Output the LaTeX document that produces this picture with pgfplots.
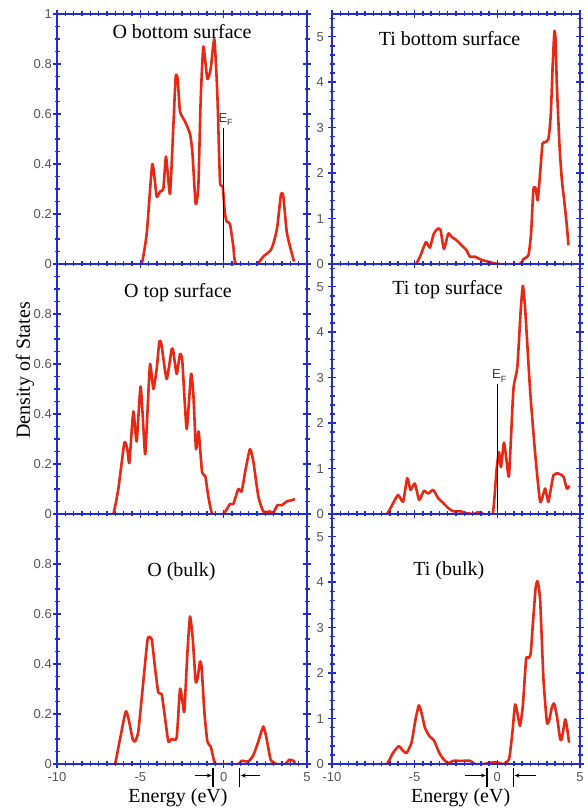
\documentclass[border=0pt]{standalone}
\usepackage{fontspec}
\setmainfont{Liberation Serif}
\setsansfont{Liberation Sans}
\usepackage{pgfplots}
\pgfplotsset{compat=1.18}
\usetikzlibrary{arrows.meta}

\definecolor{frameblue}{RGB}{35,45,205}
\definecolor{dosred}{RGB}{232,40,20}
\definecolor{ticktext}{RGB}{85,85,85}
\definecolor{eftext}{RGB}{55,55,55}

\newcommand\ticklabelfont{\sffamily\fontsize{13}{13}\selectfont}
\newcommand\titlefont{\fontsize{20}{24}\selectfont}
\newcommand\eflabel{E\rlap{\raisebox{-3.5pt}{\fontsize{9}{9}\selectfont F}}}

\pgfplotsset{
  dos/.style={
    scale only axis, height=250pt,
    xmin=-10, xmax=5,
    axis on top,
    clip mode=individual,
    axis line style={frameblue, line width=2.4pt},
    tick style={frameblue, line width=1.5pt},
    major tick length=8pt, minor tick length=5pt,
    tick align=center,
    xtick={-10,-5,0,5},
    minor xtick={-9.5,-9,...,4.5},
    tick label style={font=\ticklabelfont, text=ticktext},
    /pgf/number format/assume math mode=true,
    xticklabel style={anchor=center, yshift=-9pt},
  },
  dosleft/.style={dos, width=250pt, ymin=0, ymax=1,
    ytick={0,0.2,0.4,0.6,0.8,1},
    minor ytick={0.05,0.1,...,0.951},
    yticklabel style={anchor=east, inner sep=0pt, xshift=-1pt}},
  dosright/.style={dos, width=248pt, ymin=0, ymax=5.5,
    ytick={0,1,2,3,4,5},
    minor ytick={0.2,0.4,...,5.41},
    yticklabel style={anchor=east, inner sep=0pt, xshift=-4pt}},
  dosline/.style={dosred, line width=2.6pt, line join=round, smooth, tension=0.3, no marks},
  efline/.style={black, line width=1.6pt, no marks},
}

\begin{document}
\begin{tikzpicture}
\useasboundingbox (0,0) rectangle (588pt,810pt);

% ---------------- O, bottom surface ----------------
\begin{axis}[dosleft, at={(57pt,546pt)}, anchor=south west, xticklabels={}]
\addplot[dosline] coordinates {
(-5.3,0) (-4.92,0) (-4.62,0.12) (-4.28,0.40) (-4.02,0.27) (-3.82,0.29) (-3.62,0.30)
(-3.46,0.43) (-3.22,0.28) (-3.02,0.55) (-2.88,0.75) (-2.76,0.74) (-2.62,0.61)
(-2.32,0.57) (-2.02,0.52) (-1.88,0.45) (-1.68,0.24) (-1.52,0.31) (-1.38,0.655)
(-1.22,0.87) (-0.98,0.74) (-0.78,0.78) (-0.56,0.90) (-0.38,0.68) (-0.22,0.33)
(-0.06,0.31) (0.08,0.20) (0.18,0.17) (0.38,0.16) (0.58,0.07) (0.74,0) (1.98,0)
(2.38,0.03) (2.82,0.055) (3.02,0.09) (3.22,0.15) (3.44,0.28) (3.58,0.27) (3.78,0.13)
(3.98,0.07) (4.22,0.01)};
\addplot[efline] coordinates {(0,0) (0,0.545)};
\node[font=\sffamily\fontsize{13}{13}\selectfont, text=eftext, anchor=base, inner sep=0]
  at (axis cs:-0.05,0.567) {\eflabel};
\node[font=\titlefont] at (axis description cs:0.5,0.928) {O bottom surface};
\end{axis}

% ---------------- Ti, bottom surface ----------------
\begin{axis}[dosright, at={(332pt,546pt)}, anchor=south west, xticklabels={}]
\addplot[dosline] coordinates {
(-5.3,0) (-4.93,0) (-4.69,0.15) (-4.32,0.48) (-4.08,0.36) (-3.84,0.67) (-3.58,0.78)
(-3.43,0.74) (-3.23,0.33) (-2.97,0.67) (-2.77,0.60) (-2.46,0.52) (-2.16,0.41)
(-1.86,0.30) (-1.66,0.16) (-1.35,0.16) (-0.95,0.09) (-0.44,0.04) (0.06,0) (1.37,0)
(1.58,0.11) (1.88,0.19) (2.04,0.67) (2.18,1.64) (2.32,1.67) (2.44,1.40) (2.59,2.01)
(2.73,2.64) (2.89,2.68) (3.09,2.75) (3.23,3.27) (3.35,4.39) (3.45,5.12) (3.52,4.95)
(3.60,3.94) (3.76,2.60) (3.90,1.86) (4.04,1.41) (4.21,0.82) (4.30,0.41)};
\node[font=\titlefont] at (axis description cs:0.474,0.90) {Ti bottom surface};
\end{axis}

% ---------------- O, top surface ----------------
\begin{axis}[dosleft, at={(57pt,296pt)}, anchor=south west, xticklabels={},
  yticklabels={0,0.2,0.4,0.6,0.8,{}}]
\addplot[dosline] coordinates {
(-6.9,0) (-6.62,0) (-6.32,0.10) (-5.96,0.285) (-5.78,0.26) (-5.66,0.205) (-5.42,0.41)
(-5.22,0.29) (-4.98,0.51) (-4.72,0.24) (-4.62,0.34) (-4.42,0.60) (-4.22,0.50)
(-4.02,0.58) (-3.86,0.69) (-3.74,0.68) (-3.42,0.54) (-3.12,0.66) (-3.02,0.65)
(-2.82,0.56) (-2.62,0.64) (-2.48,0.61) (-2.22,0.34) (-1.96,0.56) (-1.82,0.48)
(-1.66,0.26) (-1.50,0.33) (-1.30,0.17) (-1.10,0.15) (-0.92,0.07) (-0.68,0) (-0.02,0)
(0.38,0.04) (0.58,0.04) (0.88,0.10) (1.08,0.09) (1.32,0.18) (1.58,0.26) (1.78,0.21)
(2.08,0.07) (2.38,0.01) (2.78,0.01) (2.98,0.005) (3.22,0.035) (3.48,0.035)
(3.78,0.05) (4.08,0.055) (4.28,0.06)};
\node[font=\titlefont] at (axis description cs:0.484,0.884) {O top surface};
\node[font=\titlefont, rotate=90] at (axis description cs:-0.128,0.574) {Density of States};
\end{axis}

% ---------------- Ti, top surface ----------------
\begin{axis}[dosright, at={(332pt,296pt)}, anchor=south west, xticklabels={}]
\addplot[dosline] coordinates {
(-7.0,0) (-6.67,0) (-6.30,0.24) (-6.0,0.42) (-5.70,0.27) (-5.45,0.79) (-5.25,0.53)
(-4.99,0.67) (-4.73,0.31) (-4.44,0.51) (-4.18,0.45) (-3.88,0.53) (-3.58,0.35)
(-3.27,0.24) (-2.97,0.13) (-2.67,0.06) (-2.26,0.06) (-1.86,0.02) (-1.45,0)
(-1.15,0.04) (-0.85,0) (-0.28,0) (-0.04,1.0) (0.10,1.36) (0.22,1.03) (0.40,1.57)
(0.57,1.14) (0.71,0.85) (0.97,2.73) (1.21,3.23) (1.41,4.46) (1.54,5.02) (1.68,4.53)
(1.98,2.73) (2.28,1.36) (2.59,0.27) (2.89,0.56) (3.09,0.27) (3.39,0.85) (3.70,0.89)
(4.0,0.82) (4.20,0.56) (4.36,0.62)};
\addplot[efline] coordinates {(0,0) (0,2.85)};
\node[font=\sffamily\fontsize{13}{13}\selectfont, text=eftext, anchor=base, inner sep=0]
  at (axis cs:-0.05,2.98) {\eflabel};
\node[font=\titlefont] at (axis description cs:0.466,0.896) {Ti top surface};
\end{axis}

% ---------------- O, bulk ----------------
\begin{axis}[dosleft, at={(57pt,46pt)}, anchor=south west,
  yticklabels={0,0.2,0.4,0.6,0.8,{}}]
\addplot[dosline] coordinates {
(-6.8,0) (-6.52,0) (-6.22,0.10) (-5.88,0.21) (-5.72,0.185) (-5.46,0.10) (-5.32,0.09)
(-5.12,0.13) (-4.82,0.33) (-4.56,0.50) (-4.32,0.50) (-4.12,0.385) (-3.92,0.285)
(-3.72,0.28) (-3.52,0.185) (-3.32,0.09) (-3.12,0.10) (-2.82,0.105) (-2.62,0.30)
(-2.46,0.245) (-2.36,0.21) (-2.18,0.44) (-2.02,0.59) (-1.86,0.505) (-1.68,0.33)
(-1.56,0.345) (-1.42,0.41) (-1.32,0.385) (-1.16,0.21) (-0.98,0.09) (-0.78,0.07)
(-0.62,0.025) (-0.46,0) (0.88,0) (1.08,0.013) (1.48,0.01) (1.78,0.035) (2.08,0.09)
(2.38,0.15) (2.58,0.10) (2.82,0.017) (3.18,0) (3.68,0) (3.94,0.017) (4.18,0.013)
(4.28,0.004)};
% band gap markers
\draw[black, line width=1.6pt] ([yshift=-4pt]axis cs:-0.65,0) -- ([yshift=-23pt]axis cs:-0.65,0);
\draw[black, line width=1.6pt] ([yshift=-4pt]axis cs:0.95,0) -- ([yshift=-23pt]axis cs:0.95,0);
\draw[black, line width=1pt, -{Stealth[length=5pt,width=4pt]}]
  ([yshift=-11.5pt]axis cs:-1.75,0) -- ([yshift=-11.5pt]axis cs:-0.72,0);
\draw[black, line width=1pt, -{Stealth[length=5pt,width=4pt]}]
  ([yshift=-11.5pt]axis cs:2.2,0) -- ([yshift=-11.5pt]axis cs:1.02,0);
\node[font=\titlefont] at (axis description cs:0.498,0.768) {O (bulk)};
\node[font=\titlefont] at (axis description cs:0.484,-0.136) {Energy (eV)};
\end{axis}

% ---------------- Ti, bulk ----------------
\begin{axis}[dosright, at={(332pt,46pt)}, anchor=south west]
\addplot[dosline] coordinates {
(-7.0,0) (-6.67,0) (-6.30,0.25) (-5.96,0.39) (-5.70,0.29) (-5.49,0.24) (-5.19,0.47)
(-4.95,0.98) (-4.75,1.29) (-4.59,1.13) (-4.38,0.80) (-4.12,0.62) (-3.82,0.51)
(-3.52,0.25) (-3.27,0.11) (-2.97,0.02) (-2.67,0.07) (-2.36,0.07) (-2.06,0.07)
(-1.66,0.07) (-1.35,0) (-0.85,0) (-0.14,0.04) (0.36,0) (0.71,0.11) (0.91,0.69)
(1.07,1.31) (1.21,1.13) (1.37,0.84) (1.54,1.27) (1.74,2.31) (1.88,2.33) (2.02,2.44)
(2.18,3.24) (2.32,3.89) (2.44,4.02) (2.59,3.60) (2.79,1.86) (3.0,0.91) (3.15,0.98)
(3.29,1.24) (3.43,1.33) (3.60,1.06) (3.80,0.55) (3.90,0.56) (4.10,0.98) (4.20,0.84)
(4.34,0.47)};
% band gap markers
\draw[black, line width=1.6pt] ([yshift=-4pt]axis cs:-0.62,0) -- ([yshift=-23pt]axis cs:-0.62,0);
\draw[black, line width=1.6pt] ([yshift=-4pt]axis cs:0.97,0) -- ([yshift=-23pt]axis cs:0.97,0);
\draw[black, line width=1pt, -{Stealth[length=5pt,width=4pt]}]
  ([yshift=-11.5pt]axis cs:-1.95,0) -- ([yshift=-11.5pt]axis cs:-0.69,0);
\draw[black, line width=1pt, -{Stealth[length=5pt,width=4pt]}]
  ([yshift=-11.5pt]axis cs:2.35,0) -- ([yshift=-11.5pt]axis cs:1.04,0);
\node[font=\titlefont] at (axis description cs:0.471,0.772) {Ti (bulk)};
\node[font=\titlefont] at (axis description cs:0.519,-0.136) {Energy (eV)};
\end{axis}
\end{tikzpicture}
\end{document}
